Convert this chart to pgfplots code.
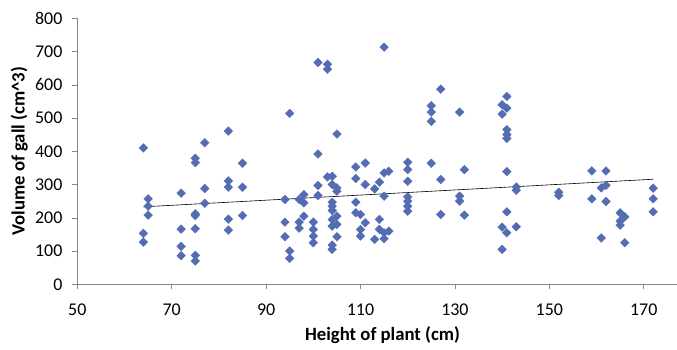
\documentclass[border=0pt]{standalone}
\usepackage{pgfplots}
\pgfplotsset{compat=1.18}
\usepackage{fontspec}
\setmainfont{Carlito}
\definecolor{mk}{RGB}{83,108,178}
\definecolor{axc}{RGB}{134,134,134}
\begin{document}
\begin{tikzpicture}
\useasboundingbox (-77.3bp,-65.7bp) rectangle (599.7bp,284.3bp);
\begin{axis}[
  at={(0,0)}, anchor=south west,
  scale only axis, width=599.7bp, height=266bp,
  xmin=50, xmax=177.05, ymin=0, ymax=800,
  axis lines*=left,
  axis line style={axc, -},
  tick style={axc, line width=0.6pt},
  tick align=outside, major tick length=5bp,
  xtick={50,70,...,170}, ytick={0,100,...,800},
  /pgf/number format/assume math mode=true,
  tick label style={font=\fontsize{18}{21}\selectfont, black},
  yticklabel style={xshift=-6.4bp},
  xticklabel style={yshift=-11bp},
  every axis y label/.style={at={(rel axis cs:0,0.5)}, xshift=-58bp, rotate=90, anchor=center, font=\fontsize{18.8}{22}\selectfont\bfseries},
  every axis x label/.style={at={(rel axis cs:0,0)}, xshift=305.2bp, yshift=-50.5bp, anchor=center, font=\fontsize{18.8}{22}\selectfont\bfseries},
  xlabel={Height of plant (cm)},
  ylabel={Volume of gall (cm\^{}3)},
  clip=false,
]
\addplot[only marks, mark=square*, mark size=3.1bp, mark options={rotate=45, fill=mk, draw=mk, line width=0.3pt}] coordinates {
(64,410)(65,257)(65,235)(65,208)(64,153)(64,127)
(72,274)(72,166)(72,114)(72,86)
(75,379)(75,366)(75,212)(75,207)(75,167)(75,87)(75,70)
(77,426)(77,288)(77,244)
(82,461)(82,311)(82,292)(82,196)(82,163)
(85,364)(85,292)(85,207)
(94,255)(94,187)(94,143)
(95,514)(95,100)(95,78)
(97,255)(97,187)(97,169)
(98,270)(98,245)(98,205)
(100,187)(100,165)(100,145)(100,125)
(101,667)(101,392)(101,297)(101,267)
(103,662)(103,647)(103,323)
(104,325)(104,300)(104,247)(104,235)(104,222)(104,195)(104,175)(104,118)(104,105)
(105,452)(105,290)(105,280)(105,205)(105,180)(105,143)
(109,353)(109,318)(109,247)(109,215)
(110,210)(110,165)(110,145)
(111,365)(111,300)(111,185)
(113,287)(113,135)
(114,307)(114,195)(114,165)
(115,713)(115,335)(115,265)(115,155)(115,137)
(116,340)(116,160)
(120,367)(120,345)(120,310)(120,263)(120,250)(120,235)(120,220)
(125,537)(125,518)(125,490)(125,364)
(127,587)(127,315)(127,210)
(131,518)(131,265)(131,250)
(132,345)(132,208)
(140,540)(140,512)(140,172)(140,105)
(141,565)(141,530)(141,465)(141,450)(141,439)(141,339)(141,218)(141,155)
(143,293)(143,283)(143,173)
(152,277)(152,267)
(159,341)(159,257)
(161,290)(161,139)
(162,341)(162,298)(162,249)
(165,215)(165,190)(165,178)
(166,203)(166,125)
(172,289)(172,257)(172,218)
};
\addplot[black, line width=0.6pt, no marks] coordinates {(64,233)(172,316)};
\end{axis}
\end{tikzpicture}
\end{document}
